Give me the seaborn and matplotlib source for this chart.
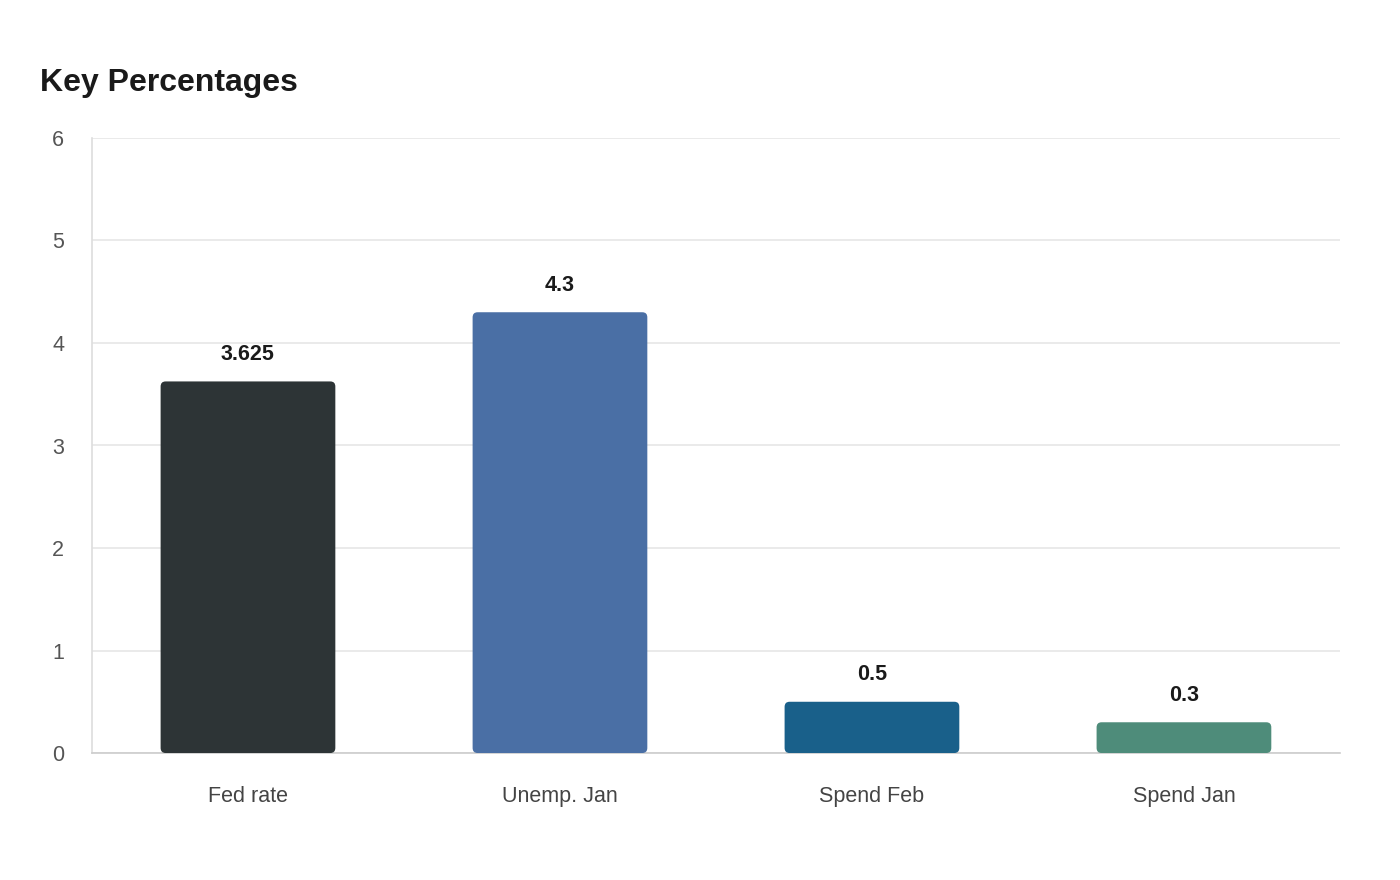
import matplotlib
matplotlib.use("Agg")
import pandas as pd
import seaborn as sns
import matplotlib.pyplot as plt
from matplotlib.patches import FancyBboxPatch

# Chart data
categories = ["Fed rate", "Unemp. Jan", "Spend Feb", "Spend Jan"]
values = [3.625, 4.3, 0.5, 0.3]
value_labels = ["3.625", "4.3", "0.5", "0.3"]
bar_colors = ["#2d3436", "#4a6fa5", "#19608a", "#4e8c7a"]
y_ticks = [0, 1, 2, 3, 4, 5, 6]


def make_frame():
    return pd.DataFrame({"category": categories, "value": values})


def round_bars(ax):
    # swap each seaborn bar for a rounded copy at the same place
    for patch in list(ax.patches):
        x, y = patch.get_x(), patch.get_y()
        w, h = patch.get_width(), patch.get_height()
        rounded = FancyBboxPatch((x, y), w, h,
                                 boxstyle="round,pad=0,rounding_size=0.016",
                                 mutation_aspect=3.1,
                                 facecolor=patch.get_facecolor(),
                                 edgecolor="none", zorder=patch.get_zorder())
        patch.set_visible(False)
        ax.add_patch(rounded)


def draw(data):
    sns.set_theme(style="white")
    plt.rcParams["font.family"] = ["Liberation Sans", "DejaVu Sans"]

    fig = plt.figure(figsize=(14, 8.8), dpi=100)
    ax = fig.add_axes([0.0657, 0.1443, 0.8914, 0.6989])

    sns.barplot(data=data, x="category", y="value", hue="category",
                palette=bar_colors, width=0.56, legend=False, ax=ax,
                saturation=1, zorder=3)

    bars = [p for p in ax.patches]
    round_bars(ax)

    # value labels above each bar
    for bar, label in zip(bars, value_labels):
        ax.annotate(label, (bar.get_x() + bar.get_width() / 2, bar.get_height()),
                    xytext=(0, 12), textcoords="offset points",
                    ha="center", va="bottom", fontsize=15.5,
                    fontweight="bold", color="#1a1a1a")

    ax.set_ylim(0, 6)
    ax.set_xlim(-0.5, len(categories) - 0.5)
    ax.set_yticks(y_ticks)
    ax.set_yticklabels([str(t) for t in y_ticks])
    ax.yaxis.grid(True, color="#e8e8e8", linewidth=1.3, zorder=0)
    ax.set_axisbelow(True)

    ax.set_xlabel("")
    ax.set_ylabel("")
    ax.tick_params(axis="y", length=8.5, width=1.3, color="#e8e8e8",
                   pad=11.5, labelsize=15.5, labelcolor="#555555")
    ax.tick_params(axis="x", length=0, pad=24, labelsize=15.5,
                   labelcolor="#444444")

    for side in ["top", "right"]:
        ax.spines[side].set_visible(False)
    ax.spines["left"].set_color("#dddddd")
    ax.spines["left"].set_linewidth(1.2)
    ax.spines["bottom"].set_color("#cccccc")
    ax.spines["bottom"].set_linewidth(1.2)

    fig.text(0.0286, 1 - 83 / 880, "Key Percentages", fontsize=23,
             fontweight="bold", color="#1a1a1a", ha="left", va="center")

    fig.savefig("out.png", dpi=100, facecolor="white")


if __name__ == "__main__":
    draw(make_frame())
